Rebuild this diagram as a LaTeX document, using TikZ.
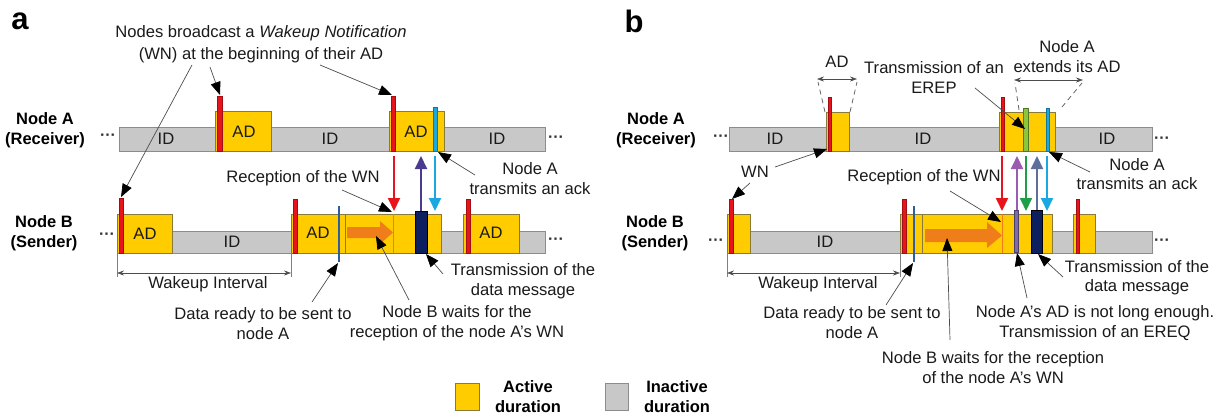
\documentclass[tikz,border=0pt]{standalone}
\usepackage{fontspec}
\setmainfont{Liberation Sans}
\usetikzlibrary{arrows.meta}

\definecolor{adyel}{HTML}{FFCC00}
\definecolor{adedge}{HTML}{8A7A3A}
\definecolor{idgray}{HTML}{C8C8C8}
\definecolor{idedge}{HTML}{8C8C8C}
\definecolor{wnred}{HTML}{E8141C}
\definecolor{ackcyan}{HTML}{1BA8E0}
\definecolor{datanavy}{HTML}{0C1F5E}
\definecolor{readyblue}{HTML}{2F5E9E}
\definecolor{waitorange}{HTML}{EE7D1A}
\definecolor{upindigo}{HTML}{4B3A8E}
\definecolor{ereqpurple}{HTML}{9B5BB0}
\definecolor{erepgreen}{HTML}{1E9E48}
\definecolor{upslate}{HTML}{5F6F9C}
\definecolor{erepbar}{HTML}{8CC63F}
\definecolor{ereqbar}{HTML}{7E6BA8}
\definecolor{inktext}{HTML}{1A1A1A}

\tikzset{
  txt/.style={font=\fontsize{16.6}{20}\selectfont, align=center, inner sep=0pt, text=inktext},
  lbl/.style={font=\bfseries\fontsize{16.5}{20}\selectfont, align=center, inner sep=0pt},
  panel/.style={font=\bfseries\fontsize{31}{31}\selectfont, inner sep=0pt},
  dots/.style={font=\bfseries\fontsize{16}{16}\selectfont, inner sep=0pt, text=black!80},
  ann/.style={draw=black!70, line width=0.7pt, -{Triangle[length=13pt,width=10pt,fill=black,color=black]}},
  dimline/.style={draw=black!70, line width=0.6pt, {Stealth[length=7pt,width=5pt]}-{Stealth[length=7pt,width=5pt]}},
  tickline/.style={draw=black!50, line width=0.5pt},
  guide/.style={draw=black!60, line width=0.8pt, dashed, dash pattern=on 5pt off 4pt},
  idbar/.style={fill=idgray, draw=idedge, line width=0.6pt},
  adbox/.style={fill=adyel, draw=adedge, line width=0.6pt},
  seg/.style={draw=adedge, line width=0.6pt},
  wn/.style={fill=wnred, draw=wnred!70!black, line width=0.3pt},
  ackbar/.style={fill=ackcyan, draw=ackcyan!70!black, line width=0.3pt},
  databar/.style={fill=datanavy, draw=black, line width=0.3pt},
  erepbox/.style={fill=erepbar, draw=erepbar!60!black, line width=0.3pt},
  ereqbox/.style={fill=ereqbar, draw=ereqbar!60!black, line width=0.3pt},
  sig/.style={line width=2pt, -{Triangle[length=13pt,width=12pt]}},
  waitarrow/.style={fill=waitorange, draw=none},
}

\begin{document}
\begin{tikzpicture}[x=1pt,y=-1pt]
\useasboundingbox (0,0) rectangle (1223,418);

% ================= panel a =================
\node[panel] (pa) at (20,21) {a};
\node[lbl] (aNodeA) at (45,130) {Node A\\(Receiver)};
\node[lbl] (aNodeB) at (44,233) {Node B\\(Sender)};

% receiver timeline
\draw[idbar] (119,127) rectangle (545,151);
\draw[adbox] (215,111) rectangle (271,151);
\draw[adbox] (389,111) rectangle (444,151);
\draw[wn] (217,96) rectangle (222,151);
\draw[wn] (391,96) rectangle (395,151);
\draw[ackbar] (433,107) rectangle (437,151);
\node[dots] (aAdl) at (108,137) {···};
\node[dots] (aAdr) at (556,139) {···};
\node[txt] (aA1) at (166,139) {ID};
\node[txt] (aA2) at (244,132) {AD};
\node[txt] (aA3) at (330,139) {ID};
\node[txt] (aA4) at (416,132) {AD};
\node[txt] (aA5) at (497,139) {ID};

% sender timeline
\draw[idbar] (117,231) rectangle (545,253);
\draw[adbox] (117,214) rectangle (172,253);
\draw[adbox] (291,214) rectangle (441,253);
\draw[seg] (345,214) -- (345,253);
\draw[adbox] (463,214) rectangle (519,253);
\draw[wn] (119,198) rectangle (123,253);
\draw[wn] (293,199) rectangle (297,253);
\draw[wn] (466,199) rectangle (470,253);
\fill[waitarrow] (347,227) -- (380,227) -- (380,221) -- (393,232.5) -- (380,244) -- (380,238) -- (347,238) -- cycle;
\draw[waitorange, line width=1pt] (393,214) -- (393,253);
\draw[databar] (415,211) rectangle (427,253);
\draw[readyblue, line width=1.2pt] (339,206) -- (339,262);
\node[dots] (aBdl) at (107,236) {···};
\node[dots] (aBdr) at (556,241) {···};
\node[txt] (aB1) at (145,234) {AD};
\node[txt] (aB2) at (232,242) {ID};
\node[txt] (aB3) at (318,233) {AD};
\node[txt] (aB4) at (491,233) {AD};

% exchanged frames
\coordinate (aRxTop) at (394,156);  \coordinate (aRxBot) at (394,211);
\coordinate (aDtBot) at (421,211);  \coordinate (aDtTop) at (421,156);
\coordinate (aAkTop) at (435,156);  \coordinate (aAkBot) at (435,211);
\draw[sig, wnred] (aRxTop) -- (aRxBot);
\draw[sig, upindigo] (aDtBot) -- (aDtTop);
\draw[sig, ackcyan] (aAkTop) -- (aAkBot);

% wakeup interval
\coordinate (aWi1) at (117,253); \coordinate (aWi2) at (291,253);
\draw[tickline] (aWi1) -- ++(0,24);
\draw[tickline] (aWi2) -- ++(0,24);
\draw[dimline] ([yshift=-20pt]aWi1) -- ([yshift=-20pt]aWi2);
\node[txt] (aWiT) at (208,284) {Wakeup Interval};

% notes
\node[txt, font=\fontsize{16.6}{22}\selectfont] (aWnNote) at (261,44) {Nodes broadcast a \textit{Wakeup Notification}\\(WN) at the beginning of their AD};
\coordinate (aWnT1) at (192,65);  \coordinate (aWnH1) at (121,197);
\coordinate (aWnT2) at (210,67);  \coordinate (aWnH2) at (220,95);
\coordinate (aWnT3) at (320,65);  \coordinate (aWnH3) at (392,95);
\draw[ann] (aWnT1) -- (aWnH1);
\draw[ann] (aWnT2) -- (aWnH2);
\draw[ann] (aWnT3) -- (aWnH3);

\node[txt] (aRxNote) at (303,178) {Reception of the WN};
\coordinate (aRxT) at (342,190); \coordinate (aRxH) at (392,212);
\draw[ann] (aRxT) -- (aRxH);

\node[txt] (aAckNote) at (530,179) {Node A\\transmits an ack};
\coordinate (aAckT) at (475,175); \coordinate (aAckH) at (438,152);
\draw[ann] (aAckT) -- (aAckH);

\node[txt] (aDataNote) at (523,281) {Transmission of the\\data message};
\coordinate (aDataT) at (443,274); \coordinate (aDataH) at (426,254);
\draw[ann] (aDataT) -- (aDataH);

\node[txt] (aReadyNote) at (263,324) {Data ready to be sent to\\node A};
\coordinate (aReadyT) at (312,302); \coordinate (aReadyH) at (338,263);
\draw[ann] (aReadyT) -- (aReadyH);

\node[txt] (aWaitNote) at (457,323) {Node B waits for the\\reception of the node A’s WN};
\coordinate (aWaitT) at (409,300); \coordinate (aWaitH) at (376,236);
\draw[ann] (aWaitT) -- (aWaitH);

% ================= panel b =================
\node[panel] (pb) at (634,21) {b};
\node[lbl] (bNodeA) at (656,130) {Node A\\(Receiver)};
\node[lbl] (bNodeB) at (655,233) {Node B\\(Sender)};

% receiver timeline
\draw[idbar] (729,127) rectangle (1152,151);
\draw[adbox] (826,112) rectangle (849,151);
\draw[adbox] (999,112) rectangle (1055,151);
\draw[wn] (828,97) rectangle (831,151);
\draw[wn] (1001,97) rectangle (1004,151);
\draw[erepbox] (1023,108) rectangle (1028,151);
\draw[ackbar] (1046,108) rectangle (1049,151);
\node[dots] (bAdl) at (721,138) {···};
\node[dots] (bAdr) at (1162,140) {···};
\node[txt] (bA1) at (775,139) {ID};
\node[txt] (bA2) at (923,139) {ID};
\node[txt] (bA3) at (1107,139) {ID};

% AD width marker
\coordinate (bAdL) at (825,112); \coordinate (bAdR) at (850,112);
\coordinate (bAdLu) at (818,82); \coordinate (bAdRu) at (857,82);
\draw[guide] (bAdL) -- (bAdLu);
\draw[guide] (bAdR) -- (bAdRu);
\draw[dimline] (817,79) -- (857,79);
\node[txt] (bAdT) at (837,62) {AD};

% extended AD marker
\coordinate (bExL) at (1019,110); \coordinate (bExR) at (1062,107);
\coordinate (bExLu) at (1015,83); \coordinate (bExRu) at (1082,83);
\draw[guide] (bExL) -- (bExLu);
\draw[guide] (bExR) -- (bExRu);
\draw[dimline] (1014,80) -- (1083,80);
\node[txt] (bExT) at (1067,57) {Node A\\extends its AD};

% sender timeline
\draw[idbar] (750,231) rectangle (1152,253);
\draw[adbox] (727,214) rectangle (750,253);
\draw[adbox] (900,214) rectangle (1052,253);
\draw[seg] (922,214) -- (922,253);
\draw[adbox] (1073,214) rectangle (1095,253);
\draw[wn] (729,199) rectangle (733,253);
\draw[wn] (902,199) rectangle (906,253);
\draw[wn] (1076,199) rectangle (1079,253);
\fill[waitarrow] (925,229) -- (987,229) -- (987,222) -- (1002,235.5) -- (987,248) -- (987,242) -- (925,242) -- cycle;
\draw[waitorange, line width=1pt] (1002,214) -- (1002,253);
\draw[ereqbox] (1014,210) rectangle (1018,252);
\draw[databar] (1031,210) rectangle (1042,253);
\draw[readyblue, line width=1.2pt] (914,206) -- (914,262);
\node[dots] (bBdl) at (716,242) {···};
\node[dots] (bBdr) at (1162,242) {···};
\node[txt] (bB1) at (825,242) {ID};

% exchanged frames
\coordinate (bRxTop) at (1002,156); \coordinate (bRxBot) at (1002,211);
\coordinate (bEqBot) at (1017,210); \coordinate (bEqTop) at (1017,156);
\coordinate (bEpTop) at (1026,156); \coordinate (bEpBot) at (1026,211);
\coordinate (bDtBot) at (1037,210); \coordinate (bDtTop) at (1037,156);
\coordinate (bAkTop) at (1047,156); \coordinate (bAkBot) at (1047,211);
\draw[sig, wnred] (bRxTop) -- (bRxBot);
\draw[sig, ereqpurple] (bEqBot) -- (bEqTop);
\draw[sig, erepgreen] (bEpTop) -- (bEpBot);
\draw[sig, upslate] (bDtBot) -- (bDtTop);
\draw[sig, ackcyan] (bAkTop) -- (bAkBot);

% wakeup interval
\coordinate (bWi1) at (727,253); \coordinate (bWi2) at (900,253);
\draw[tickline] (bWi1) -- ++(0,24);
\draw[tickline] (bWi2) -- ++(0,24);
\draw[dimline] ([yshift=-20pt]bWi1) -- ([yshift=-20pt]bWi2);
\node[txt] (bWiT) at (818,284) {Wakeup Interval};

% notes
\node[txt] (bWnNote) at (755,172) {WN};
\coordinate (bWnT1) at (775,167); \coordinate (bWnH1) at (827,149);
\coordinate (bWnT2) at (750,183); \coordinate (bWnH2) at (732,199);
\draw[ann] (bWnT1) -- (bWnH1);
\draw[ann] (bWnT2) -- (bWnH2);

\node[txt] (bErepNote) at (934,77) {Transmission of an\\EREP};
\coordinate (bErepT) at (975,88); \coordinate (bErepH) at (1025,129);
\draw[ann] (bErepT) -- (bErepH);

\node[txt] (bRxNote) at (924,177) {Reception of the WN};
\coordinate (bRxT) at (950,191); \coordinate (bRxH) at (1001,222);
\draw[ann] (bRxT) -- (bRxH);

\node[txt, font=\fontsize{16.6}{19}\selectfont] (bAckNote) at (1137,174) {Node A\\transmits an ack};
\coordinate (bAckT) at (1090,172); \coordinate (bAckH) at (1049,152);
\draw[ann] (bAckT) -- (bAckH);

\node[txt, font=\fontsize{16.6}{19}\selectfont] (bDataNote) at (1137,278) {Transmission of the\\data message};
\coordinate (bDataT) at (1063,277); \coordinate (bDataH) at (1038,254);
\draw[ann] (bDataT) -- (bDataH);

\node[txt] (bEreqNote) at (1095,323) {Node A’s AD is not long enough.\\Transmission of an EREQ};
\coordinate (bEreqT) at (1027,298); \coordinate (bEreqH) at (1017,253);
\draw[ann] (bEreqT) -- (bEreqH);

\node[txt] (bReadyNote) at (852,323) {Data ready to be sent to\\node A};
\coordinate (bReadyT) at (886,305); \coordinate (bReadyH) at (913,263);
\draw[ann] (bReadyT) -- (bReadyH);

\node[txt] (bWaitNote) at (993,368) {Node B waits for the reception\\of the node A’s WN};
\coordinate (bWaitT) at (950,340); \coordinate (bWaitH) at (947,238);
\draw[ann] (bWaitT) -- (bWaitH);

% ================= legend =================
\draw[adbox] (455,383) rectangle (479,410);
\node[lbl] (legA) at (528,397) {Active\\duration};
\draw[idbar] (605,383) rectangle (628,410);
\node[lbl] (legI) at (677,397) {Inactive\\duration};
\end{tikzpicture}
\end{document}
